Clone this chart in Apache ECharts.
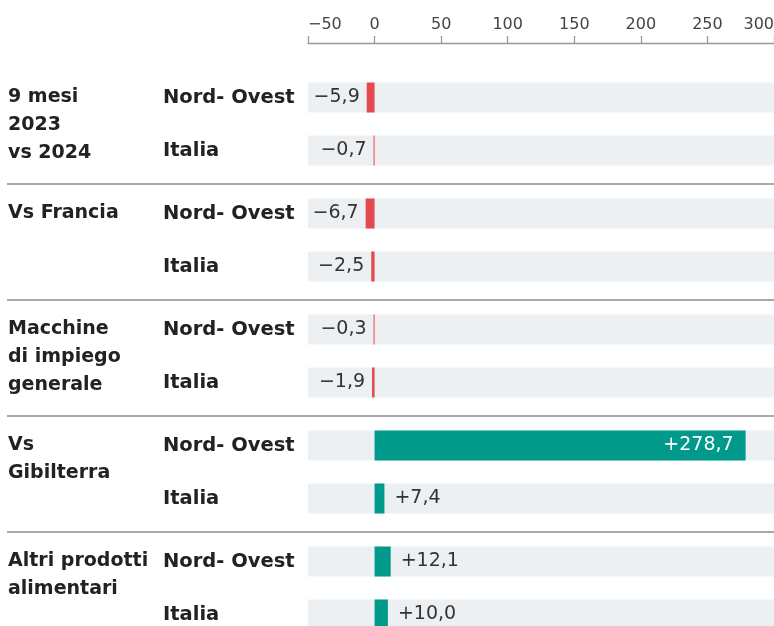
<!DOCTYPE html>
<html>
<head>
<meta charset="utf-8">
<script src="https://cdn.jsdelivr.net/npm/echarts@6/dist/echarts.min.js"></script>
<style>
  html, body { margin: 0; padding: 0; background: #fff; }
  #chart { width: 774px; height: 626px; }
</style>
</head>
<body>
<div id="chart"></div>
<script>
// dati
const groups = ["9 mesi\n2023\nvs 2024", "Vs Francia", "Macchine\ndi impiego\ngenerale", "Vs\nGibilterra", "Altri prodotti\nalimentari"];
const rows = ["Nord- Ovest", "Italia"];
const nordOvest = [-5.9, -6.7, -0.3, 278.7, 12.1];
const italia = [-0.7, -2.5, -1.9, 7.4, 10.0];
const axisTicks = [-50, 300, 50]; // min, max, interval

// layout
const FONT = "DejaVu Sans";
const top0 = 71, step = 116, gridH = 106, left = 308;
const red = "#e5484d", teal = "#00998a";

function fmt(v) {
  const s = Math.abs(v).toFixed(1).replace(".", ",");
  return (v < 0 ? "\u2212" : "+") + s;
}

const grids = [], xAxes = [], yAxes = [], series = [], titles = [], graphics = [];

groups.forEach((g, i) => {
  const top = top0 + step * i;
  grids.push({ left: left, right: 0, top: top, height: gridH, outerBoundsMode: "none" });
  xAxes.push({
    gridIndex: i,
    type: "value",
    min: axisTicks[0],
    max: axisTicks[1],
    interval: axisTicks[2],
    position: "top",
    offset: 28,
    show: i === 0,
    splitLine: { show: false },
    axisLine: { show: true, lineStyle: { color: "#999", width: 1.3 } },
    axisTick: { show: true, length: 7, lineStyle: { color: "#999", width: 1.3 } },
    axisLabel: {
      color: "#444", fontFamily: FONT, fontSize: 16, margin: 10,
      alignMinLabel: "left", alignMaxLabel: "right",
      formatter: v => (v < 0 ? "\u2212" + Math.abs(v) : String(v))
    }
  });
  yAxes.push({
    gridIndex: i,
    type: "category",
    data: rows,
    inverse: true,
    axisLine: { show: false },
    axisTick: { show: false },
    axisLabel: {
      align: "left", margin: 145,
      color: "#222", fontFamily: FONT, fontWeight: "bold", fontSize: 19.5
    }
  });
  const vals = [nordOvest[i], italia[i]];
  series.push({
    type: "bar",
    xAxisIndex: i,
    yAxisIndex: i,
    barWidth: 30,
    barMinHeight: 1,
    showBackground: true,
    backgroundStyle: { color: "#edf0f3" },
    data: vals.map(v => ({
      value: v,
      itemStyle: { color: v < 0 ? red : teal },
      label: v > 100
        ? { position: "insideRight", distance: 12, color: "#fff" }
        : { position: v < 0 ? "left" : "right", distance: v < 0 ? 7 : 10, color: "#333" }
    })),
    label: {
      show: true,
      fontFamily: FONT,
      fontSize: 19,
      formatter: p => fmt(p.value)
    }
  });
  titles.push({
    text: g,
    left: 8,
    top: top + 12.5,
    padding: 0,
    textStyle: { color: "#222", fontFamily: FONT, fontWeight: "bold", fontSize: 19, lineHeight: 28 }
  });
  if (i < groups.length - 1) {
    graphics.push({
      type: "line",
      shape: { x1: 7, y1: top + 113, x2: 774, y2: top + 113 },
      style: { stroke: "#8c8c8c", lineWidth: 1.5 }
    });
  }
});

const chart = echarts.init(document.getElementById("chart"));
chart.setOption({
  animation: false,
  title: titles,
  grid: grids,
  xAxis: xAxes,
  yAxis: yAxes,
  series: series,
  graphic: graphics
});
</script>
</body>
</html>
